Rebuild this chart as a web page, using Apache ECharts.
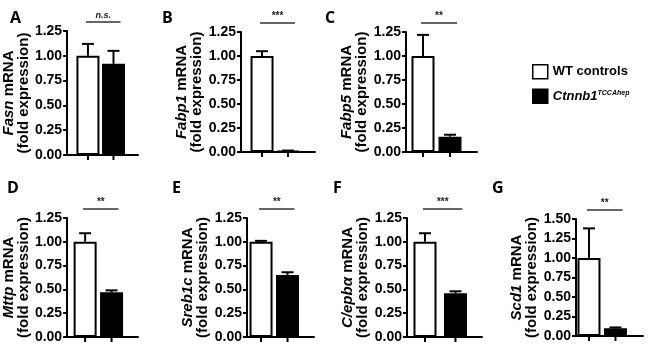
<!DOCTYPE html>
<html><head><meta charset="utf-8">
<script src="https://cdn.jsdelivr.net/npm/echarts@6/dist/echarts.min.js"></script>
<style>html,body{margin:0;padding:0;background:#fff}#c{width:650px;height:348px}</style>
</head><body><div id="c"></div>
<script>
// ---- data ----
const panelLetters = ['A','B','C','D','E','F','G'];
const genes = ['Fasn','Fabp1','Fabp5','Mttp','Sreb1c','C/epbα','Scd1'];
const groupNames = ['WT controls','Ctnnb1'];
const wtMean = [1.00,1.00,1.00,1.00,1.00,1.00,1.00];
const wtErr  = [0.12,0.05,0.22,0.09,0.01,0.09,0.38];
const koMean = [0.92,0.01,0.16,0.47,0.65,0.46,0.10];
const koErr  = [0.13,0.005,0.02,0.02,0.03,0.02,0.01];
const sigLabels = ['n.s.','***','**','**','**','***','**'];
const yMaxes = [1.25,1.25,1.25,1.25,1.25,1.25,1.50];
const yStep = 0.25;

// ---- layout (pixels) ----
const gridRects = [
  [63,31,75,124],[241,32,74,120],[406,32,71,120],
  [67,218,71,119],[247,218,67,119],[407,218,75,119],[576,219,67,117]];
const xRanges = [[-0.815,1.96],[-0.81,2.04],[-0.63,2.0],[-0.68,2.0],[-0.53,2.0],[-0.59,1.87],[-0.49,2.04]];
const letterPos = [[10,10],[162,10],[325,10],[7,180],[172,180],[333,180],[492,180]];

const FONT = '"Liberation Sans", Arial, Helvetica, sans-serif';

const chart = echarts.init(document.getElementById('c'), null, {renderer:'canvas'});

const grids = [], xAxes = [], yAxes = [], series = [], graphics = [];

function makeErr() {
  return function(params, api) {
    const x = api.value(0), m = api.value(1), e = api.value(2);
    const base = api.coord([x, m]), top = api.coord([x, m + e]), zero = api.coord([x, 0]);
    const cap = 6;
    return {type:'group', children:[
      {type:'line', shape:{x1:top[0], y1:base[1], x2:top[0], y2:top[1]}, style:{stroke:'#000', lineWidth:2}},
      {type:'line', shape:{x1:top[0]-cap, y1:top[1], x2:top[0]+cap, y2:top[1]}, style:{stroke:'#000', lineWidth:2}},
      {type:'line', shape:{x1:zero[0], y1:zero[1], x2:zero[0], y2:zero[1]+5}, style:{stroke:'#000', lineWidth:2}}
    ]};
  };
}
function makeSig(label) {
  return function(params, api) {
    const a = api.coord([api.value(0), api.value(2)]);
    const b = api.coord([api.value(1), api.value(2)]);
    const y = a[1] - 9;
    const italic = label === 'n.s.';
    return {type:'group', children:[
      {type:'line', shape:{x1:a[0]-2, y1:y, x2:b[0]+7, y2:y}, style:{stroke:'#333', lineWidth:1.3}},
      {type:'text', x:(a[0]+b[0]+5)/2, y:y-2, style:{text:label, fill:'#222',
        font:(italic ? 'italic bold 9px ' : 'bold 10px ') + FONT, align:'center', verticalAlign:'bottom'}}
    ]};
  };
}

for (let i = 0; i < genes.length; i++) {
  const [l,t,w,h] = gridRects[i];
  grids.push({left:l, top:t, width:w, height:h, containLabel:false});
  xAxes.push({type:'value', gridIndex:i, min:xRanges[i][0], max:xRanges[i][1],
    axisLine:{show:true, onZero:false, lineStyle:{color:'#000', width:2}},
    axisTick:{show:false}, axisLabel:{show:false}, splitLine:{show:false}});
  yAxes.push({type:'value', gridIndex:i, min:0, max:yMaxes[i], interval:yStep,
    axisLine:{show:true, onZero:false, lineStyle:{color:'#000', width:2}},
    axisTick:{show:true, length:4, lineStyle:{color:'#000', width:2}},
    axisLabel:{margin:5, color:'#000', fontWeight:'bold', fontSize:14, fontFamily:FONT,
      formatter:v => v.toFixed(2)},
    splitLine:{show:false},
    name:'{g|' + genes[i] + '}{m| mRNA}\n{m|(fold expression)}',
    nameLocation:'middle', nameRotate:90, nameGap:30,
    nameTextStyle:{rich:{
      g:{fontStyle:'italic', fontWeight:'bold', fontSize:15, fontFamily:FONT, color:'#000', lineHeight:15},
      m:{fontWeight:'bold', fontSize:15, fontFamily:FONT, color:'#000', lineHeight:15}
    }}
  });
  series.push({type:'bar', name:groupNames[0], xAxisIndex:i, yAxisIndex:i, barWidth:23, barGap:'-100%',
    data:[[0, wtMean[i]]], itemStyle:{color:'#fff', borderColor:'#000', borderWidth:2}, silent:true});
  series.push({type:'bar', name:groupNames[1], xAxisIndex:i, yAxisIndex:i, barWidth:23, barGap:'-100%',
    data:[[1, koMean[i]]], itemStyle:{color:'#000', borderColor:'#000', borderWidth:2}, silent:true});
  series.push({type:'custom', xAxisIndex:i, yAxisIndex:i, renderItem:makeErr(), clip:false, z:5,
    encode:{x:0, y:1}, data:[[0, wtMean[i], wtErr[i]], [1, koMean[i], koErr[i]]], silent:true});
  series.push({type:'custom', xAxisIndex:i, yAxisIndex:i, renderItem:makeSig(sigLabels[i]), clip:false, z:5,
    encode:{x:0, y:2}, data:[[0, 1, yMaxes[i]]], silent:true});
  graphics.push({type:'text', left:letterPos[i][0], top:letterPos[i][1],
    style:{text:panelLetters[i], font:'bold 16px "Open Sans", Arial, sans-serif', fill:'#000'}});
}

chart.setOption({
  backgroundColor:'#fff',
  animation:false,
  grid:grids, xAxis:xAxes, yAxis:yAxes, series:series, graphic:graphics,
  legend:{data:groupNames, orient:'vertical', left:527, top:59, itemWidth:15, itemHeight:14, itemGap:9,
    icon:'rect', selectedMode:false,
    itemStyle:{borderColor:'#000', borderWidth:1.5},
    formatter:n => n === 'WT controls' ? '{w|WT controls}' : '{k|Ctnnb1}{s|TCCAhep}',
    textStyle:{rich:{
      w:{fontWeight:'bold', fontSize:13, fontFamily:FONT, color:'#000'},
      k:{fontWeight:'bold', fontStyle:'italic', fontSize:13, fontFamily:FONT, color:'#000'},
      s:{fontWeight:'bold', fontStyle:'italic', fontSize:7, fontFamily:FONT, color:'#000', verticalAlign:'top'}
    }}
  }
});
</script></body></html>
